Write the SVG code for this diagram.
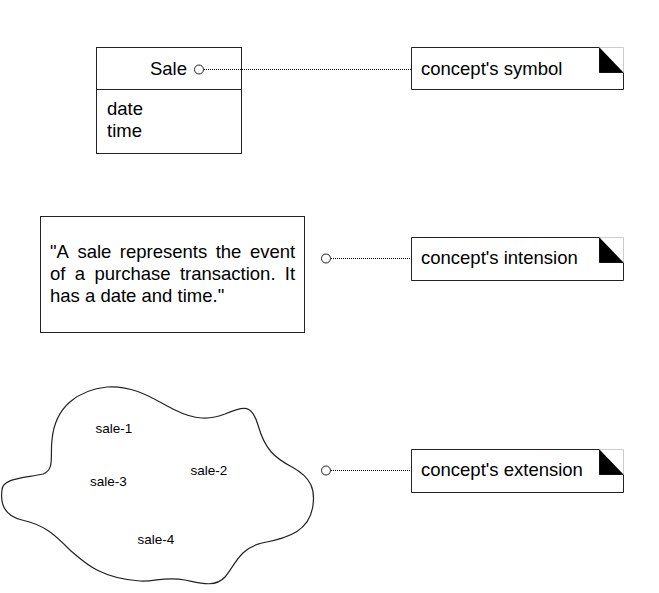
<svg xmlns="http://www.w3.org/2000/svg" width="659" height="593" viewBox="0 0 659 593">
<style>
.t{font-family:"Liberation Sans",Arial,sans-serif;font-size:18.5px;fill:#000}
.s{font-family:"Liberation Sans",Arial,sans-serif;font-size:13.5px;fill:#000}
.box{fill:#fff;stroke:#222;stroke-width:1}
.dot{stroke:#000;stroke-width:1;stroke-dasharray:1 1;fill:none}
.end{fill:#fff;stroke:#222;stroke-width:1}
.fold{fill:none;stroke:#ccc;stroke-width:1}
</style>
<defs>
<g id="corner">
<path d="M0,0 L24,0 L24,25" class="fold"/>
<path d="M0,0 L24,25 L0,25 Z" fill="#000"/>
</g>
</defs>
<rect width="659" height="593" fill="#fff"/>

<g id="sale-class">
<rect class="box" x="96.5" y="47.5" width="145" height="106"/>
<line x1="96.5" y1="89.5" x2="241.5" y2="89.5" stroke="#222"/>
<text class="t" x="187" y="75" text-anchor="end">Sale</text>
<text class="t" x="107" y="115">date</text>
<text class="t" x="107" y="137">time</text>
</g>

<g id="note-symbol">
<path class="box" d="M411.5,47.5 L599.5,47.5 L599.5,72.5 L623.5,72.5 L623.5,89.5 L411.5,89.5 Z"/>
<use href="#corner" x="599.5" y="47.5"/>
<text class="t" x="421" y="75">concept's symbol</text>
</g>

<g id="definition">
<rect class="box" x="40.5" y="216.5" width="264" height="116"/>
<text class="t" y="258"><tspan x="50">"A</tspan><tspan x="77.4">sale</tspan><tspan x="119.8">represents</tspan><tspan x="215.7">the</tspan><tspan x="250">event</tspan></text>
<text class="t" y="280"><tspan x="50">of</tspan><tspan x="74.8">a</tspan><tspan x="94.4">purchase</tspan><tspan x="179.9">transaction.</tspan><tspan x="284.8">It</tspan></text>
<text class="t" x="50" y="302">has a date and time."</text>
</g>

<g id="note-intension">
<path class="box" d="M411.5,237.5 L599.5,237.5 L599.5,262.5 L623.5,262.5 L623.5,280.5 L411.5,280.5 Z"/>
<use href="#corner" x="599.5" y="237.5"/>
<text class="t" x="421" y="264">concept's intension</text>
</g>

<g id="extension-cloud">
<path fill="#fff" stroke="#222" stroke-width="1.2" d="M2,490 C2,478 25,478 43,474 C55,470 50,455 52,440 C55,405 80,390 107,387 C135,385 155,400 175,410 C195,420 210,420 225,414 C245,405 252,405 258,425 C265,450 275,458 292,467 C312,478 315,490 313,505 C310,530 290,538 262,543 C240,548 235,565 225,577 C215,588 200,583 185,580 C165,576 155,582 140,581 C100,578 85,563 70,550 C55,535 45,525 22,520 C5,516 0,505 2,490 Z"/>
<text class="s" x="95.5" y="433">sale-1</text>
<text class="s" x="190.5" y="475">sale-2</text>
<text class="s" x="90" y="486">sale-3</text>
<text class="s" x="137.5" y="544">sale-4</text>
</g>

<g id="note-extension">
<path class="box" d="M411.5,449.5 L599.5,449.5 L599.5,474.5 L623.5,474.5 L623.5,492.5 L411.5,492.5 Z"/>
<use href="#corner" x="599.5" y="449.5"/>
<text class="t" x="421" y="476">concept's extension</text>
</g>

<g id="connectors">
<line class="dot" x1="204" y1="69.5" x2="411" y2="69.5"/>
<line class="dot" x1="331" y1="258.5" x2="411" y2="258.5"/>
<line class="dot" x1="331" y1="470.5" x2="411" y2="470.5"/>
<circle class="end" cx="199" cy="69.5" r="4.5"/>
<circle class="end" cx="326" cy="258.5" r="4.5"/>
<circle class="end" cx="326" cy="470.5" r="4.5"/>
</g>
</svg>
